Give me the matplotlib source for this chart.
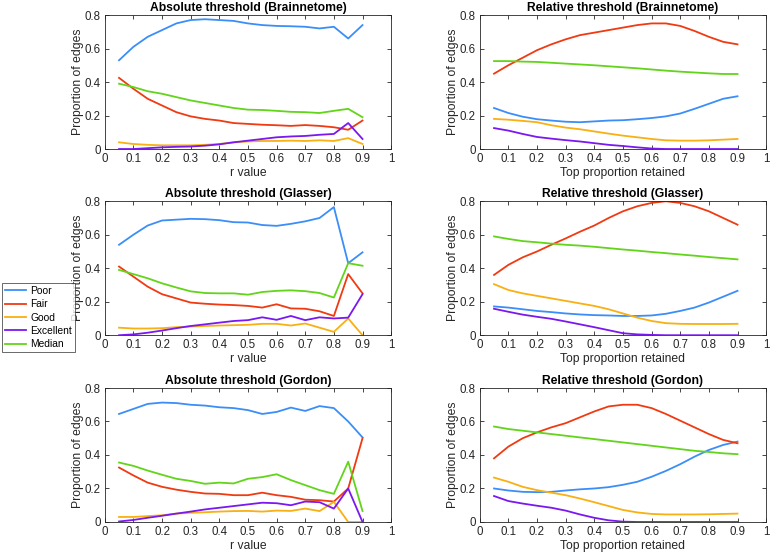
import numpy as np
import matplotlib
matplotlib.use("Agg")
import matplotlib.pyplot as plt

plt.rcParams['font.family'] = ['Liberation Sans', 'DejaVu Sans']
plt.rcParams['font.size'] = 8.5

x = [0.05, 0.1, 0.15, 0.2, 0.25, 0.3, 0.35, 0.4, 0.45, 0.5,
     0.55, 0.6, 0.65, 0.7, 0.75, 0.8, 0.85, 0.9]

labels = ["Poor", "Fair", "Good", "Excellent", "Median"]
colors = ["#3b8ef8", "#f03a12", "#f8b012", "#7a18f0", "#62d41a"]

# Absolute threshold (Brainnetome)
abs_bn_poor = [0.53, 0.61, 0.67, 0.71, 0.75, 0.77, 0.775, 0.77, 0.765, 0.75, 0.74, 0.735, 0.733, 0.73, 0.72, 0.73, 0.66, 0.74]
abs_bn_fair = [0.425, 0.36, 0.30, 0.26, 0.22, 0.195, 0.18, 0.17, 0.155, 0.15, 0.145, 0.142, 0.138, 0.143, 0.138, 0.13, 0.115, 0.17]
abs_bn_good = [0.04, 0.03, 0.025, 0.022, 0.022, 0.022, 0.025, 0.03, 0.04, 0.045, 0.048, 0.048, 0.05, 0.048, 0.052, 0.048, 0.065, 0.03]
abs_bn_exc = [0.0, 0.0, 0.005, 0.01, 0.013, 0.015, 0.02, 0.028, 0.04, 0.05, 0.06, 0.07, 0.075, 0.078, 0.085, 0.09, 0.155, 0.06]
abs_bn_med = [0.39, 0.37, 0.345, 0.33, 0.31, 0.29, 0.275, 0.26, 0.245, 0.235, 0.233, 0.228, 0.222, 0.22, 0.215, 0.228, 0.24, 0.19]

# Relative threshold (Brainnetome)
rel_bn_poor = [0.245, 0.215, 0.193, 0.178, 0.17, 0.163, 0.16, 0.165, 0.17, 0.172, 0.178, 0.185, 0.195, 0.212, 0.24, 0.27, 0.3, 0.315]
rel_bn_fair = [0.45, 0.5, 0.545, 0.59, 0.625, 0.655, 0.68, 0.695, 0.71, 0.725, 0.74, 0.75, 0.75, 0.735, 0.705, 0.67, 0.64, 0.625]
rel_bn_good = [0.18, 0.175, 0.168, 0.16, 0.142, 0.128, 0.118, 0.105, 0.092, 0.08, 0.07, 0.06, 0.052, 0.05, 0.05, 0.052, 0.056, 0.06]
rel_bn_exc = [0.125, 0.11, 0.09, 0.072, 0.062, 0.053, 0.045, 0.035, 0.025, 0.018, 0.01, 0.003, 0.0, 0.0, 0.0, 0.0, 0.0, 0.0]
rel_bn_med = [0.525, 0.525, 0.522, 0.52, 0.515, 0.51, 0.505, 0.5, 0.494, 0.488, 0.482, 0.475, 0.468, 0.462, 0.457, 0.452, 0.448, 0.448]

# Absolute threshold (Glasser)
abs_gl_poor = [0.54, 0.60, 0.655, 0.685, 0.69, 0.695, 0.693, 0.687, 0.675, 0.673, 0.658, 0.653, 0.665, 0.68, 0.70, 0.765, 0.43, 0.495]
abs_gl_fair = [0.41, 0.35, 0.29, 0.245, 0.22, 0.195, 0.188, 0.183, 0.18, 0.175, 0.165, 0.185, 0.16, 0.158, 0.143, 0.115, 0.365, 0.25]
abs_gl_good = [0.045, 0.04, 0.04, 0.042, 0.048, 0.052, 0.055, 0.058, 0.06, 0.062, 0.068, 0.068, 0.058, 0.07, 0.045, 0.02, 0.10, 0.0]
abs_gl_exc = [0.0, 0.005, 0.015, 0.028, 0.042, 0.055, 0.065, 0.075, 0.085, 0.09, 0.107, 0.092, 0.115, 0.09, 0.107, 0.1, 0.105, 0.245]
abs_gl_med = [0.39, 0.365, 0.34, 0.31, 0.285, 0.262, 0.252, 0.25, 0.25, 0.242, 0.258, 0.265, 0.268, 0.263, 0.252, 0.225, 0.43, 0.415]

# Relative threshold (Glasser)
rel_gl_poor = [0.172, 0.165, 0.155, 0.145, 0.138, 0.13, 0.124, 0.12, 0.118, 0.115, 0.115, 0.118, 0.128, 0.145, 0.165, 0.195, 0.23, 0.265]
rel_gl_fair = [0.36, 0.42, 0.465, 0.50, 0.54, 0.578, 0.618, 0.655, 0.70, 0.74, 0.77, 0.79, 0.80, 0.79, 0.77, 0.74, 0.70, 0.66]
rel_gl_good = [0.305, 0.27, 0.25, 0.235, 0.22, 0.205, 0.19, 0.175, 0.155, 0.13, 0.105, 0.085, 0.072, 0.068, 0.067, 0.067, 0.067, 0.068]
rel_gl_exc = [0.158, 0.14, 0.123, 0.11, 0.098, 0.082, 0.065, 0.048, 0.03, 0.012, 0.005, 0.002, 0.0, 0.0, 0.0, 0.0, 0.0, 0.0]
rel_gl_med = [0.59, 0.575, 0.562, 0.555, 0.547, 0.54, 0.535, 0.528, 0.52, 0.512, 0.505, 0.497, 0.49, 0.482, 0.475, 0.467, 0.46, 0.453]

# Absolute threshold (Gordon)
abs_go_poor = [0.645, 0.675, 0.705, 0.713, 0.71, 0.70, 0.695, 0.685, 0.68, 0.668, 0.645, 0.657, 0.683, 0.663, 0.692, 0.68, 0.60, 0.505]
abs_go_fair = [0.325, 0.278, 0.235, 0.21, 0.193, 0.18, 0.17, 0.168, 0.16, 0.16, 0.175, 0.16, 0.15, 0.133, 0.13, 0.122, 0.2, 0.5]
abs_go_good = [0.03, 0.03, 0.035, 0.04, 0.05, 0.055, 0.058, 0.062, 0.065, 0.066, 0.062, 0.068, 0.066, 0.08, 0.065, 0.12, 0.0, 0.0]
abs_go_exc = [0.003, 0.012, 0.025, 0.037, 0.05, 0.062, 0.075, 0.085, 0.095, 0.105, 0.115, 0.112, 0.1, 0.122, 0.118, 0.08, 0.2, 0.0]
abs_go_med = [0.355, 0.335, 0.307, 0.282, 0.258, 0.245, 0.228, 0.235, 0.23, 0.258, 0.268, 0.285, 0.25, 0.22, 0.19, 0.168, 0.36, 0.065]

# Relative threshold (Gordon)
rel_go_poor = [0.20, 0.188, 0.18, 0.178, 0.18, 0.188, 0.195, 0.2, 0.208, 0.222, 0.24, 0.27, 0.305, 0.345, 0.39, 0.43, 0.46, 0.48]
rel_go_fair = [0.38, 0.45, 0.50, 0.535, 0.565, 0.59, 0.625, 0.66, 0.69, 0.70, 0.70, 0.68, 0.645, 0.605, 0.565, 0.525, 0.49, 0.47]
rel_go_good = [0.265, 0.24, 0.21, 0.19, 0.175, 0.16, 0.14, 0.118, 0.095, 0.072, 0.057, 0.048, 0.045, 0.045, 0.045, 0.046, 0.048, 0.05]
rel_go_exc = [0.155, 0.125, 0.11, 0.097, 0.085, 0.068, 0.045, 0.025, 0.01, 0.002, 0.0, 0.0, 0.0, 0.0, 0.0, 0.0, 0.0, 0.0]
rel_go_med = [0.57, 0.555, 0.545, 0.535, 0.525, 0.515, 0.505, 0.495, 0.485, 0.475, 0.465, 0.455, 0.445, 0.435, 0.425, 0.418, 0.41, 0.405]

panels = [
    ("Absolute threshold (Brainnetome)", "r value", [abs_bn_poor, abs_bn_fair, abs_bn_good, abs_bn_exc, abs_bn_med]),
    ("Relative threshold (Brainnetome)", "Top proportion retained", [rel_bn_poor, rel_bn_fair, rel_bn_good, rel_bn_exc, rel_bn_med]),
    ("Absolute threshold (Glasser)", "r value", [abs_gl_poor, abs_gl_fair, abs_gl_good, abs_gl_exc, abs_gl_med]),
    ("Relative threshold (Glasser)", "Top proportion retained", [rel_gl_poor, rel_gl_fair, rel_gl_good, rel_gl_exc, rel_gl_med]),
    ("Absolute threshold (Gordon)", "r value", [abs_go_poor, abs_go_fair, abs_go_good, abs_go_exc, abs_go_med]),
    ("Relative threshold (Gordon)", "Top proportion retained", [rel_go_poor, rel_go_fair, rel_go_good, rel_go_exc, rel_go_med]),
]

fig = plt.figure(figsize=(7.7, 5.55), dpi=100)

lefts = [0.136, 0.623]
bottoms = [0.7315, 0.396, 0.0595]
w = 0.372
h = 0.2414

axes = []
for i, (title, xlabel, series) in enumerate(panels):
    r, c = divmod(i, 2)
    ax = fig.add_axes([lefts[c], bottoms[r], w, h])
    for ys, col, lab in zip(series, colors, labels):
        ax.plot(x, ys, color=col, lw=1.3, label=lab)
    ax.set_xlim(0, 1)
    ax.set_ylim(0, 0.8)
    ax.set_xticks(np.arange(0, 1.01, 0.1))
    ax.set_xticklabels(["0", "0.1", "0.2", "0.3", "0.4", "0.5", "0.6", "0.7", "0.8", "0.9", "1"])
    ax.set_yticks([0, 0.2, 0.4, 0.6, 0.8])
    ax.set_yticklabels(["0", "0.2", "0.4", "0.6", "0.8"])
    ax.tick_params(direction="in", top=True, right=True, length=3, width=0.6,
                   color="#262626", labelcolor="#262626", labelsize=8.3, pad=3)
    for sp in ax.spines.values():
        sp.set_color("#262626")
        sp.set_linewidth(0.6)
    ax.set_title(title, fontweight="bold", fontsize=8.7, pad=3)
    ax.set_xlabel(xlabel, fontsize=8.7, color="#262626", labelpad=1)
    ax.set_ylabel("Proportion of edges", fontsize=8.7, color="#262626", labelpad=0)
    axes.append(ax)

handles, labs = axes[2].get_legend_handles_labels()
leg = fig.legend(handles, labs, loc="upper left", bbox_to_anchor=(0.003, 1 - 283 / 555),
                 frameon=True, fancybox=False, fontsize=7.4, handlelength=2.0,
                 borderpad=0.3, labelspacing=0.32, handletextpad=0.4, borderaxespad=0)
leg.get_frame().set_edgecolor("#262626")
leg.get_frame().set_linewidth(0.6)

fig.savefig("out.png", dpi=100)
